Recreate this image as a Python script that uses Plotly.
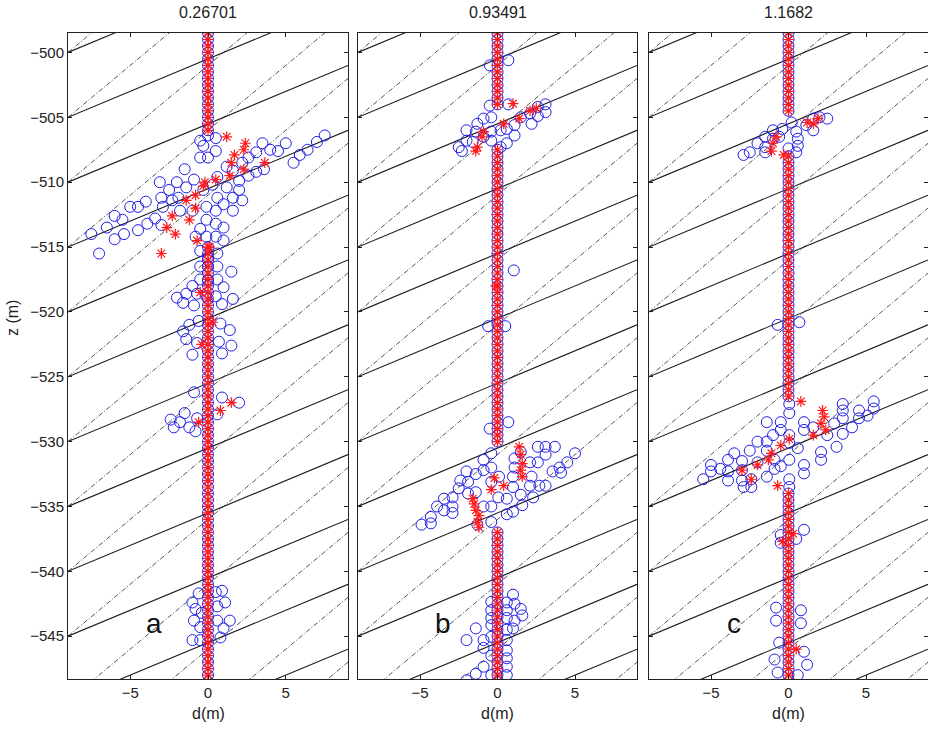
import plotly.graph_objects as go

# ---------------- data ----------------
TITLES = ["0.26701", "0.93491", "1.1682"]
PANEL_LETTERS = ["a", "b", "c"]
X_TICKS = [-5, 0, 5]
Y_TICKS = [-500, -505, -510, -515, -520, -525, -530, -535, -540, -545]

# borehole sample depths (m)
BOREHOLE_Z = [
    -498.5, -499.0, -499.5, -500.0, -500.5, -501.0, -501.5, -502.0, -502.5, -503.0,
    -503.5, -504.0, -504.5, -505.0, -505.5, -506.0, -506.5, -507.0, -507.5, -508.0,
    -508.5, -509.0, -509.5, -510.0, -510.5, -511.0, -511.5, -512.0, -512.5, -513.0,
    -513.5, -514.0, -514.5, -515.0, -515.5, -516.0, -516.5, -517.0, -517.5, -518.0,
    -518.5, -519.0, -519.5, -520.0, -520.5, -521.0, -521.5, -522.0, -522.5, -523.0,
    -523.5, -524.0, -524.5, -525.0, -525.5, -526.0, -526.5, -527.0, -527.5, -528.0,
    -528.5, -529.0, -529.5, -530.0, -530.5, -531.0, -531.5, -532.0, -532.5, -533.0,
    -533.5, -534.0, -534.5, -535.0, -535.5, -536.0, -536.5, -537.0, -537.5, -538.0,
    -538.5, -539.0, -539.5, -540.0, -540.5, -541.0, -541.5, -542.0, -542.5, -543.0,
    -543.5, -544.0, -544.5, -545.0, -545.5, -546.0, -546.5, -547.0, -547.5, -548.0,
    -548.5,
]

# depth intervals where the borehole column (circle + star) is present
A_COLUMN = [(-498.5, -506.0), (-515.0, -548.5)]
B_COLUMN = [(-498.5, -504.0), (-507.5, -530.0), (-537.0, -548.5)]
C_COLUMN = [(-498.5, -504.5), (-508.0, -526.5), (-534.0, -548.5)]

# background line families: z at left edge (x=-9) and slope dz/dx
SOLID_Z0 = [-500, -505, -510, -515, -520, -525, -530, -535, -540, -545,
            -550, -555, -560, -565]
SOLID_SLOPE = 0.5
DASH_Z0 = [-500, -505, -510, -515, -520, -525, -530, -535, -540, -545,
           -550, -555, -560, -565]
DASH_SLOPE = 1.0

# scattered circles (d, z)
A_CIRCLES = [
    (-7.5, -514.0), (-7.0, -515.5), (-6.5, -513.5), (-6.0, -512.6), (-5.5, -512.9),
    (-6.0, -514.4), (-5.4, -514.0), (-5.0, -511.9), (-4.5, -511.9), (-4.0, -511.5),
    (-4.5, -513.7), (-3.9, -513.2), (-3.4, -512.8), (-3.1, -510.0), (-3.0, -511.2),
    (-2.9, -511.9), (-2.5, -510.6), (-2.3, -511.4), (-2.0, -510.0), (-1.9, -511.2),
    (-1.5, -509.0), (-1.4, -510.4), (-0.9, -509.8), (-1.8, -512.2), (-1.0, -512.2),
    (-3.0, -513.3),
    (7.5, -506.4), (7.0, -506.9), (6.4, -507.5), (5.9, -507.9), (5.5, -508.5),
    (5.0, -507.0), (4.5, -507.6), (4.0, -507.5), (3.5, -507.0), (3.1, -507.7),
    (2.6, -508.1), (2.2, -508.5), (3.6, -509.0), (3.1, -509.2), (2.6, -509.5),
    (2.0, -509.9), (1.6, -509.1), (1.2, -508.8), (0.6, -509.6), (2.0, -510.6),
    (1.6, -511.2), (1.2, -510.4), (2.2, -511.4), (1.6, -512.2),
    (-0.5, -508.1), (0.0, -508.1), (-0.3, -507.2), (0.0, -506.4), (0.5, -507.6),
    (-0.5, -506.8), (0.5, -506.6),
    (0.6, -511.2), (-0.1, -511.9), (0.5, -512.2), (1.0, -511.7), (-0.1, -512.9),
    (0.5, -513.2), (1.0, -513.5), (-0.5, -513.6), (-0.1, -514.2), (0.5, -514.2),
    (1.0, -514.5), (-0.8, -514.2), (-0.5, -515.3), (0.0, -515.8), (0.6, -515.5),
    (-0.3, -510.6), (0.3, -510.2),
    (-0.5, -516.5), (0.0, -516.5), (0.6, -516.5), (-0.5, -517.5), (0.0, -517.6),
    (0.6, -517.5), (-1.0, -518.0), (1.5, -516.9), (1.0, -518.1), (-0.7, -518.6),
    (-0.1, -518.8), (0.5, -518.8), (-2.0, -518.9), (-1.4, -518.6),
    (-1.6, -519.3), (-0.9, -519.5), (0.9, -519.4), (1.6, -519.0),
    (-1.2, -521.0), (-0.6, -520.7), (0.8, -520.9), (1.4, -521.4), (-1.4, -522.1),
    (-0.7, -522.4), (0.7, -522.3), (1.5, -522.6), (-1.0, -523.3), (0.9, -523.2),
    (-1.6, -521.5),
    (-0.9, -526.2), (0.9, -526.6), (2.0, -527.0),
    (-2.2, -528.9), (-1.8, -528.5), (-1.2, -528.9), (-0.7, -528.2), (-1.5, -527.8),
    (0.6, -527.9), (-0.8, -529.2), (-2.4, -528.3),
    (-1.0, -542.4), (-0.6, -541.7), (0.9, -541.5), (1.1, -542.4), (0.5, -541.6),
    (-0.9, -543.8), (-0.5, -544.3), (1.4, -543.8), (1.0, -544.4), (-1.0, -545.3),
    (0.6, -543.8), (0.6, -542.7), (-0.4, -543.2), (-0.5, -545.3), (-0.8, -542.9),
    (0.8, -545.1),
]
A_STARS = [
    (1.2, -506.5), (2.4, -507.0), (2.3, -507.5), (1.7, -507.9), (1.5, -508.5),
    (2.3, -509.0), (3.65, -508.5), (1.4, -509.5), (-0.2, -510.0), (-0.3, -510.3),
    (-0.8, -511.0), (-1.4, -511.4), (-0.8, -512.0), (-2.3, -512.6), (-1.2, -512.9),
    (-2.65, -513.5), (-2.1, -514.0), (-0.7, -514.5), (-3.0, -515.5), (0.1, -515.0),
    (0.5, -509.8),
    (-0.4, -522.5), (-0.5, -518.5), (0.3, -520.8), (1.5, -527.0), (0.8, -527.6),
    (-0.6, -528.5),
]

B_CIRCLES = [
    (-0.5, -501.0), (0.7, -500.6), (-0.5, -504.1), (0.7, -504.0),
    (-2.5, -507.3), (-2.0, -506.8), (-2.0, -506.0), (-1.4, -506.1), (-1.3, -505.5),
    (-0.9, -505.1), (-0.4, -505.0), (-0.4, -506.1), (-0.9, -506.5), (-0.4, -506.8),
    (0.2, -506.0), (0.6, -505.9), (1.1, -505.6), (1.1, -506.4), (0.6, -507.0),
    (0.2, -507.3), (1.5, -505.0), (2.1, -504.7), (2.2, -505.5), (2.6, -504.2),
    (3.1, -504.0), (3.1, -504.6), (2.6, -504.9), (-1.6, -506.9), (-2.3, -507.6),
    (1.05, -516.8), (-0.6, -521.1), (0.5, -521.1),
    (-4.9, -536.4), (-4.3, -536.3), (-4.3, -535.8), (-3.9, -535.0), (-3.45, -534.4),
    (-3.45, -535.3), (-2.9, -534.3), (-2.9, -535.0), (-2.9, -535.5), (-2.5, -533.6),
    (-2.4, -533.0), (-2.0, -532.3), (-1.9, -533.1), (-1.4, -533.9), (-0.9, -531.4),
    (-0.4, -530.9), (-1.3, -536.4), (-0.9, -535.0), (-0.4, -533.1), (-0.4, -535.0),
    (0.05, -534.3), (0.6, -534.4), (1.0, -533.5), (1.0, -532.7), (1.1, -532.0),
    (1.1, -531.3), (1.5, -530.8), (1.0, -535.4), (1.6, -534.9), (1.5, -534.1),
    (2.1, -533.4), (2.1, -531.6), (2.6, -531.6), (2.6, -530.4), (3.1, -530.4),
    (3.7, -530.4), (3.1, -531.0), (2.2, -532.7), (2.7, -533.4), (3.1, -533.4),
    (3.55, -532.3), (4.0, -532.0), (4.1, -532.4), (4.5, -531.6), (5.0, -530.9),
    (2.3, -534.3), (-1.4, -532.5), (-1.9, -534.0), (-0.9, -532.2), (-0.4, -532.0),
    (0.1, -532.7), (-0.5, -529.0), (0.7, -528.5), (0.6, -535.6), (-0.4, -536.2),
    (1.0, -541.8), (-0.4, -542.35), (-0.4, -543.0), (-0.4, -543.6), (-0.4, -544.15),
    (0.6, -543.0), (0.6, -543.6), (1.1, -542.5), (1.1, -543.8), (1.5, -542.9),
    (1.6, -543.4), (1.0, -544.4), (0.6, -544.5), (0.6, -545.3), (-0.4, -545.05),
    (-1.4, -544.4), (-2.0, -545.3), (-0.9, -545.3), (-0.9, -545.9), (0.6, -546.1),
    (0.6, -546.7), (0.6, -547.35), (0.6, -548.0), (-0.9, -547.35), (-1.4, -547.9),
    (-2.0, -548.4), (-0.4, -548.0), (0.6, -542.4), (-0.4, -546.5),
]
B_STARS = [
    (1.0, -503.95), (1.4, -505.1), (2.1, -504.5), (0.4, -505.5), (-0.9, -506.1),
    (-1.0, -506.5), (-1.3, -507.3), (-1.4, -507.6), (2.5, -504.3),
    (-0.1, -518.0),
    (1.4, -530.4), (1.5, -531.0), (1.6, -531.7), (1.5, -532.2), (1.6, -532.7),
    (-0.2, -532.8), (0.4, -533.4), (-0.4, -533.7), (-1.6, -534.4), (-1.5, -534.8),
    (-1.4, -535.3), (-1.2, -535.7), (-1.3, -536.2), (-1.2, -536.6),
]

C_CIRCLES = [
    (-2.9, -507.9), (-2.5, -507.7), (-2.0, -507.0), (-1.5, -506.5), (-1.5, -507.3),
    (-1.0, -506.0), (-0.6, -506.5), (-0.4, -505.9), (0.2, -505.4), (0.5, -506.1),
    (0.6, -506.65), (0.6, -507.2), (0.5, -507.7), (0.0, -507.4), (1.6, -506.0),
    (1.6, -505.1), (2.0, -505.0), (2.5, -505.1), (1.15, -505.6), (-1.0, -506.65),
    (-1.5, -507.7),
    (0.7, -520.8), (-0.7, -521.0),
    (-5.5, -532.9), (-5.0, -532.3), (-5.0, -531.8), (-4.4, -532.1), (-3.9, -532.3),
    (-3.9, -531.4), (-3.9, -533.0), (-3.5, -530.9), (-3.0, -531.5), (-3.0, -532.2),
    (-3.0, -533.0), (-2.9, -533.5), (-2.4, -533.5), (-2.4, -532.9), (-2.5, -530.7),
    (-2.0, -530.0), (-2.0, -531.6), (-1.4, -530.0), (-1.4, -530.7), (-1.4, -532.7),
    (-1.4, -528.5), (-1.0, -529.5), (-0.9, -531.4), (-0.9, -532.1), (-0.5, -528.5),
    (-0.5, -529.1), (-0.5, -531.9), (0.05, -529.5), (0.05, -530.1), (0.05, -531.4),
    (0.05, -527.1), (0.05, -527.8), (0.6, -530.5), (1.0, -528.5), (1.0, -529.1),
    (1.0, -531.8), (1.0, -532.45), (1.6, -528.9), (2.1, -530.8), (2.1, -531.4),
    (2.5, -529.5), (3.1, -530.4), (3.5, -529.4), (3.5, -528.2), (3.5, -527.6),
    (3.5, -527.1), (4.1, -528.9), (4.55, -528.2), (4.55, -527.6), (5.1, -528.0),
    (5.5, -527.45), (5.5, -526.9), (2.95, -528.6), (0.05, -532.9), (0.05, -533.5),
    (-0.5, -537.2), (1.0, -536.8), (0.5, -537.5), (-0.5, -537.8),
    (-0.8, -542.8), (0.8, -543.0), (-0.8, -543.8), (0.8, -544.0), (-0.6, -545.5),
    (1.0, -546.2), (-0.9, -546.8), (1.2, -547.2), (-0.7, -547.8), (0.6, -548.0),
]
C_STARS = [
    (1.6, -505.5), (1.9, -505.1), (1.2, -505.4), (-0.8, -506.5), (-1.0, -507.0),
    (-1.1, -507.6), (-0.3, -507.9),
    (0.8, -526.9), (2.2, -527.6), (2.3, -528.1), (2.1, -528.6), (2.4, -529.1),
    (1.6, -529.5), (0.05, -529.8), (-0.5, -530.3), (-1.1, -530.9), (-1.3, -531.4),
    (-2.0, -531.8), (-3.0, -532.2), (-2.4, -532.9), (-0.7, -533.4), (0.3, -537.1),
    (-0.4, -537.7), (0.5, -546.0),
]

X_RANGE = [-9, 9]
Y_RANGE = [-548.3, -498.5]

# ---------------- figure ----------------
W, H = 928, 729
ML, MR, MT, MB = 68, 0, 33, 50
PW = W - ML - MR
DOMAINS = [(0.0, 280 / PW), (290 / PW, 569 / PW), (581 / PW, 1.0)]

FONT = "Liberation Sans, Arial, Helvetica, sans-serif"
CIRCLE_COLOR = "#1f1fe6"
STAR_COLOR = "#ff1a1a"

fig = go.Figure()

panels = [
    (A_COLUMN, A_CIRCLES, A_STARS),
    (B_COLUMN, B_CIRCLES, B_STARS),
    (C_COLUMN, C_CIRCLES, C_STARS),
]


def family_xy(z0_list, slope):
    xs, ys = [], []
    for z0 in z0_list:
        xs += [X_RANGE[0], X_RANGE[1], None]
        ys += [z0, z0 + slope * (X_RANGE[1] - X_RANGE[0]), None]
    return xs, ys


sx, sy = family_xy(SOLID_Z0, SOLID_SLOPE)
dx, dy = family_xy(DASH_Z0, DASH_SLOPE)

for i, (column, circles, stars) in enumerate(panels):
    xa = "x" if i == 0 else f"x{i + 1}"
    ya = "y" if i == 0 else f"y{i + 1}"
    # background line families
    fig.add_trace(go.Scatter(x=dx, y=dy, mode="lines", xaxis=xa, yaxis=ya,
                             line=dict(color="#555555", width=1, dash="5px,2px,1px,2px"),
                             hoverinfo="skip", showlegend=False))
    fig.add_trace(go.Scatter(x=sx, y=sy, mode="lines", xaxis=xa, yaxis=ya,
                             line=dict(color="#1a1a1a", width=1.1),
                             hoverinfo="skip", showlegend=False))
    col_z = [z for z in BOREHOLE_Z if any(lo >= z >= hi for lo, hi in column)]
    col_x = [0.0] * len(col_z)
    cx = [p[0] for p in circles] + col_x
    cz = [p[1] for p in circles] + col_z
    fig.add_trace(go.Scatter(x=cx, y=cz, mode="markers", xaxis=xa, yaxis=ya,
                             marker=dict(symbol="circle-open", size=11, color=CIRCLE_COLOR,
                                         line=dict(width=1, color=CIRCLE_COLOR)),
                             showlegend=False))
    stx = [p[0] for p in stars] + col_x
    stz = [p[1] for p in stars] + col_z
    fig.add_trace(go.Scatter(x=stx, y=stz, mode="markers", xaxis=xa, yaxis=ya,
                             marker=dict(symbol="asterisk-open", size=9, color=STAR_COLOR,
                                         line=dict(width=1.2, color=STAR_COLOR)),
                             showlegend=False))

layout = dict(
    width=W, height=H,
    margin=dict(l=ML, r=MR, t=MT, b=MB),
    paper_bgcolor="white", plot_bgcolor="white",
    font=dict(family=FONT, size=15, color="#222222"),
    showlegend=False,
)

annotations = []
for i in range(3):
    xk = "xaxis" if i == 0 else f"xaxis{i + 1}"
    yk = "yaxis" if i == 0 else f"yaxis{i + 1}"
    ya = "y" if i == 0 else f"y{i + 1}"
    xa = "x" if i == 0 else f"x{i + 1}"
    layout[xk] = dict(domain=list(DOMAINS[i]), range=X_RANGE, anchor=ya,
                      tickvals=X_TICKS, ticks="inside", ticklen=4, tickcolor="#222",
                      showline=True, linecolor="#222", linewidth=1, mirror="ticks",
                      showgrid=False, zeroline=False, tickfont=dict(size=15))
    layout[yk] = dict(domain=[0, 1], range=Y_RANGE, anchor=xa,
                      tickvals=Y_TICKS, ticks="inside", ticklen=4, tickcolor="#222",
                      showline=True, linecolor="#222", linewidth=1, mirror="ticks",
                      showgrid=False, zeroline=False, showticklabels=(i == 0),
                      tickfont=dict(size=15))
    cxp = (DOMAINS[i][0] + DOMAINS[i][1]) / 2
    annotations.append(dict(text=TITLES[i], x=cxp, y=1, xref="paper", yref="paper",
                            xanchor="center", yanchor="middle", yshift=21,
                            showarrow=False, font=dict(size=16)))
    annotations.append(dict(text="d(m)", x=cxp, y=0, xref="paper", yref="paper",
                            xanchor="center", yanchor="middle", yshift=-34,
                            showarrow=False, font=dict(size=16)))
    annotations.append(dict(text=PANEL_LETTERS[i], x=-3.5, y=-544.0, xref=xa, yref=ya,
                            xanchor="center", yanchor="middle",
                            showarrow=False, font=dict(size=28, color="#111")))

annotations.append(dict(text="z (m)", x=0, y=(679 - 318) / (729 - 33 - 50),
                        xref="paper", yref="paper", xanchor="center", yanchor="middle",
                        xshift=-56, textangle=-90, showarrow=False, font=dict(size=16)))
layout["annotations"] = annotations
fig.update_layout(**layout)

fig.write_html("out.html")
